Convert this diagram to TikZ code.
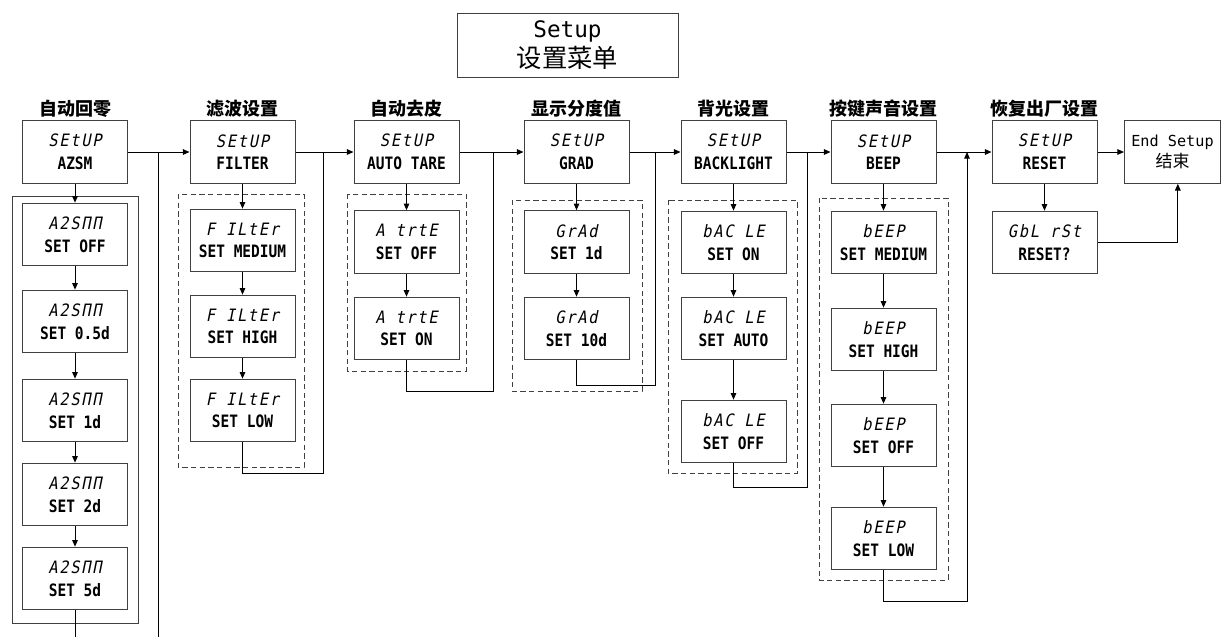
\documentclass[tikz,border=0pt]{standalone}
\usepackage{fontspec}
\newfontfamily\cjk{Noto Sans CJK SC}
\newfontfamily\monof{DejaVu Sans Mono}
\newfontfamily\lblf[FakeStretch=0.85]{DejaVu Sans Mono}
\newfontfamily\segf[FakeSlant=0.2,FakeStretch=0.9,LetterSpace=10]{DejaVu Sans Mono}
\newcommand{\lcd}[2]{{\segf #1}\\{\lblf\bfseries #2}}
\usetikzlibrary{positioning,arrows.meta}

\begin{document}
\begin{tikzpicture}[x=0.75pt,y=-0.75pt,>={Triangle[length=5pt,width=4.2pt]},line width=0.75pt,
  box/.style={draw=black!75,minimum width=78.75pt,minimum height=47pt,inner sep=0pt,align=center,font=\fontsize{12.8}{17}\selectfont},
  grp/.style={draw=black!75,dash pattern=on 4pt off 2.5pt},
  hdr/.style={font=\cjk\bfseries\fontsize{13.5}{15}\selectfont}]
  \useasboundingbox (0,0) rectangle (1221,637);
  \node[draw=black!75,minimum width=165.75pt,minimum height=48pt,align=center,font=\fontsize{17}{22.5}\selectfont] (title) at (567.5,45)
    {{\monof Setup}\\{\cjk\fontsize{19}{22.5}\selectfont 设置菜单}};
  % column headers
  \node[hdr] (h1) at (75,109) {自动回零};   \node[hdr] (h2) at (242.5,109) {滤波设置};
  \node[hdr] (h3) at (406.5,109) {自动去皮}; \node[hdr] (h4) at (576.5,109) {显示分度值};
  \node[hdr] (h5) at (733.5,109) {背光设置}; \node[hdr] (h6) at (883.5,109) {按键声音设置};
  \node[hdr] (h7) at (1044.5,109) {恢复出厂设置};
  % top row
  \node[box] (azsm) at (75,152) {\lcd{SEtUP}{AZSM}};
  \node[box] (filter) at (242.5,152) {\lcd{SEtUP}{FILTER}};
  \node[box] (tare) at (406.5,152) {\lcd{SEtUP}{AUTO TARE}};
  \node[box] (grad) at (576.5,152) {\lcd{SEtUP}{GRAD}};
  \node[box] (blight) at (733.5,152) {\lcd{SEtUP}{BACKLIGHT}};
  \node[box] (beep) at (883.5,152) {\lcd{SEtUP}{BEEP}};
  \node[box] (reset) at (1044.5,152) {\lcd{SEtUP}{RESET}};
  \node[box,minimum width=72pt,font=\fontsize{11.4}{16}\selectfont] (endset) at (1172.5,152) {{\monof End Setup}\\{\cjk\fontsize{12.75}{16}\selectfont 结束}};
  % AZSM
  \draw[black!75] (12,196) rectangle (138,623);
  \node[box] (az1) at (75,234.5) {\lcd{A2SΠΠ}{SET OFF}};
  \node[box] (az2) at (75,321.5) {\lcd{A2SΠΠ}{SET 0.5d}};
  \node[box] (az3) at (75,410.5) {\lcd{A2SΠΠ}{SET 1d}};
  \node[box] (az4) at (75,494.5) {\lcd{A2SΠΠ}{SET 2d}};
  \node[box] (az5) at (75,578.5) {\lcd{A2SΠΠ}{SET 5d}};
  % filter
  \draw[grp] (178,194) rectangle (304,467);
  \node[box] (fl1) at (242.5,240.5) {\lcd{F ILtEr}{SET MEDIUM}};
  \node[box] (fl2) at (242.5,326.5) {\lcd{F ILtEr}{SET HIGH}};
  \node[box] (fl3) at (242.5,410.5) {\lcd{F ILtEr}{SET LOW}};
  % tare
  \draw[grp] (347,194) rectangle (466,371);
  \node[box] (at1) at (406.5,242) {\lcd{A trtE}{SET OFF}};
  \node[box] (at2) at (406.5,328.5) {\lcd{A trtE}{SET ON}};
  % grad
  \draw[grp] (512,200) rectangle (642,391);
  \node[box] (gr1) at (576.5,242) {\lcd{GrAd}{SET 1d}};
  \node[box] (gr2) at (576.5,328.5) {\lcd{GrAd}{SET 10d}};
  % backlight
  \draw[grp] (668,200) rectangle (797,473);
  \node[box] (bl1) at (733.5,242.5) {\lcd{bAC LE}{SET ON}};
  \node[box] (bl2) at (733.5,328.5) {\lcd{bAC LE}{SET AUTO}};
  \node[box] (bl3) at (733.5,431.5) {\lcd{bAC LE}{SET OFF}};
  % beep
  \draw[grp] (819,198) rectangle (948,580);
  \node[box] (bp1) at (883.5,242.5) {\lcd{bEEP}{SET MEDIUM}};
  \node[box] (bp2) at (883.5,339.5) {\lcd{bEEP}{SET HIGH}};
  \node[box] (bp3) at (883.5,435.5) {\lcd{bEEP}{SET OFF}};
  \node[box] (bp4) at (883.5,538.5) {\lcd{bEEP}{SET LOW}};
  % reset
  \node[box] (rst) at (1044.5,242.5) {\lcd{GbL rSt}{RESET?}};
  % connectors
  \coordinate (j1) at (158,152); \coordinate (e1) at (158,637); \coordinate (e0) at (75,637);
  \coordinate (j2) at (323,152); \coordinate (j3) at (493,152); \coordinate (j4) at (655,152);
  \coordinate (j5) at (807,152); \coordinate (j6) at (967,152);
  \foreach \a/\b in {azsm/filter,filter/tare,tare/grad,grad/blight,blight/beep,beep/reset,reset/endset,
    azsm/az1,az1/az2,az2/az3,az3/az4,az4/az5,filter/fl1,fl1/fl2,fl2/fl3,tare/at1,at1/at2,grad/gr1,gr1/gr2,
    blight/bl1,bl1/bl2,bl2/bl3,beep/bp1,bp1/bp2,bp2/bp3,bp3/bp4,reset/rst}
    \draw[->] (\a) -- (\b);
  \draw (j1) -- (e1); \draw (az5) -- (e0);
  \draw (fl3.south) -- ++(0,31) -| (j2);
  \draw (at2.south) -- ++(0,31) -| (j3);
  \draw (gr2.south) -- ++(0,25) -| (j4);
  \draw (bl3.south) -- ++(0,24) -| (j5);
  \draw[->] (bp4.south) -- ++(0,31) -| (j6);
  \draw[->] (rst) -| ([xshift=4pt]endset.south);
\end{tikzpicture}
\end{document}
